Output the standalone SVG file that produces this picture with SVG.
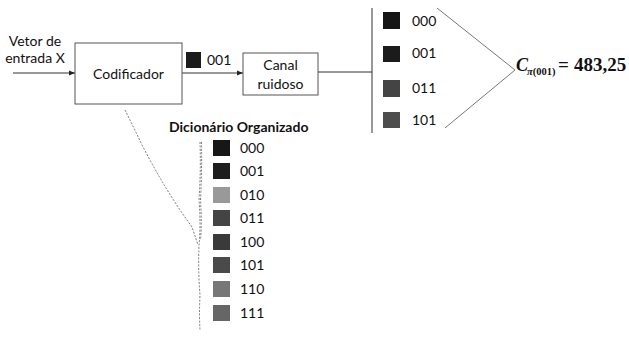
<svg xmlns="http://www.w3.org/2000/svg" width="629" height="337" viewBox="0 0 629 337">
<style>
.box{fill:#fff;stroke:#555;stroke-width:1}
.t{font-family:Lato,"Noto Sans",sans-serif;font-size:14px;fill:#111}
.c{text-anchor:middle}
.b{font-weight:bold}
.ln{stroke:#333;stroke-width:1;fill:none}
.dash{stroke:#777;stroke-width:1;fill:none;stroke-dasharray:2 1.5}
.m{font-family:"Liberation Serif",serif;font-weight:bold;fill:#111}
</style>
<defs>
<marker id="ah" viewBox="0 0 10 10" refX="10" refY="5" markerWidth="6" markerHeight="6" orient="auto" markerUnits="userSpaceOnUse">
<path d="M0,1 L10,5 L0,9 z" fill="#222"/>
</marker>
</defs>
<rect width="629" height="337" fill="#fff"/>
<g id="connectors">
<line class="ln" x1="13" y1="73" x2="75" y2="73" marker-end="url(#ah)"/>
<line class="ln" x1="182" y1="73" x2="243" y2="73" marker-end="url(#ah)"/>
<line class="ln" x1="318" y1="72" x2="372" y2="72"/>
<line class="ln" x1="372" y1="8" x2="372" y2="133"/>
<polyline points="437,8 515,70 445,128" fill="none" stroke="#777" stroke-width="1"/>
<path class="dash" d="M125,110 Q134,128 143,147 Q153,166 163,183 Q172,198 182,213 L192,227 L198,245"/>
<path class="dash" d="M200,142 Q201,170 199,200 Q201,225 199,245 Q198,270 200,295 Q199,315 200,330"/>
<path class="dash" d="M201.5,142 Q202,170 200.5,200 Q202,225 200.5,240"/>
</g>
<g id="input-label">
<text class="t c" x="35" y="46">Vetor de</text>
<text class="t c" x="35" y="63">entrada X</text>
</g>
<g id="codificador">
<rect class="box" x="75" y="43" width="107" height="61"/>
<text class="t c" x="128.5" y="79">Codificador</text>
</g>
<g id="code-001">
<rect x="186" y="52" width="15" height="16" fill="#1b1b1b"/>
<text class="t" x="207" y="65">001</text>
</g>
<g id="canal">
<rect class="box" x="243" y="53" width="75" height="42"/>
<text class="t c" x="280.5" y="70">Canal</text>
<text class="t c" x="280.5" y="89">ruidoso</text>
</g>
<g id="received">
<rect x="383" y="12" width="17" height="17" fill="#151515"/>
<text class="t" x="412" y="26">000</text>
<rect x="383" y="46" width="17" height="16" fill="#1b1b1b"/>
<text class="t" x="412" y="58">001</text>
<rect x="383" y="80" width="17" height="17" fill="#444"/>
<text class="t" x="412" y="93">011</text>
<rect x="383" y="112" width="17" height="16" fill="#4d4d4d"/>
<text class="t" x="412" y="125">101</text>
</g>
<g id="result">
<text class="m" y="71"><tspan x="516" font-style="italic" font-size="18">C</tspan><tspan x="527" y="75" font-size="10.5" font-style="italic">π</tspan><tspan font-size="10.5" y="75">(001)</tspan><tspan x="558" y="71" font-size="19">=</tspan><tspan x="574" font-size="19">483,25</tspan></text>
</g>
<g id="dicionario">
<text class="t b" x="169" y="132">Dicionário Organizado</text>
<rect x="213" y="140" width="17" height="16" fill="#171717"/>
<text class="t" x="240" y="153">000</text>
<rect x="213" y="163" width="17" height="16" fill="#1e1e1e"/>
<text class="t" x="240" y="176">001</text>
<rect x="213" y="187" width="17" height="16" fill="#999"/>
<text class="t" x="240" y="200">010</text>
<rect x="213" y="210" width="17" height="16" fill="#444"/>
<text class="t" x="240" y="223">011</text>
<rect x="213" y="234" width="17" height="16" fill="#3a3a3a"/>
<text class="t" x="240" y="247">100</text>
<rect x="213" y="257" width="17" height="16" fill="#4a4a4a"/>
<text class="t" x="240" y="270">101</text>
<rect x="213" y="281" width="17" height="16" fill="#777"/>
<text class="t" x="240" y="294">110</text>
<rect x="213" y="305" width="17" height="16" fill="#666"/>
<text class="t" x="240" y="318">111</text>
</g>
</svg>
